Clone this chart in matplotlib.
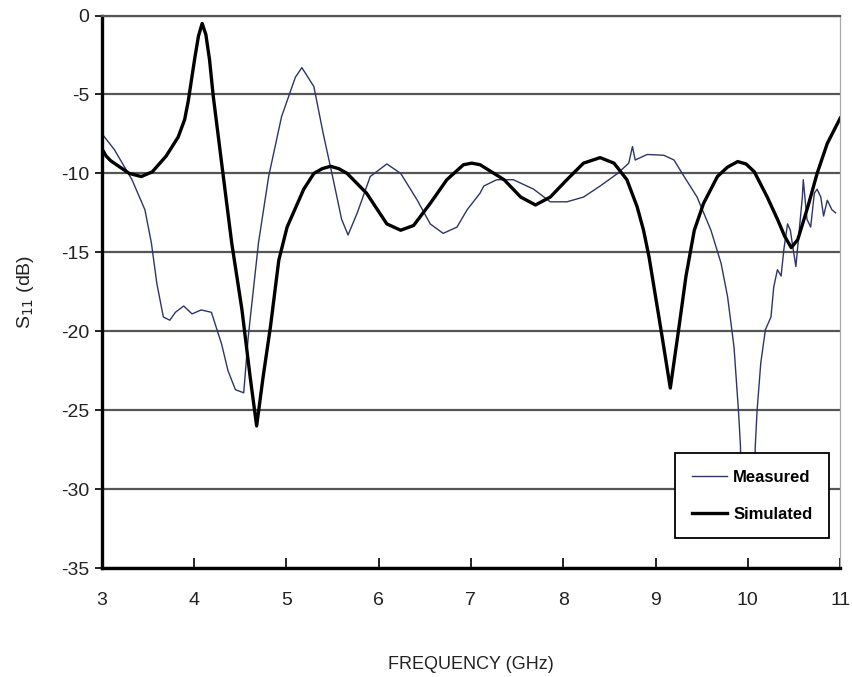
import matplotlib
matplotlib.use("Agg")
import matplotlib.pyplot as plt

# frequency (GHz) and S11 (dB)
meas_f = [3.00, 3.14, 3.33, 3.47, 3.54, 3.60, 3.67, 3.74, 3.80, 3.89, 3.98, 4.08,
          4.19, 4.30, 4.37, 4.45, 4.54, 4.59, 4.70, 4.81, 4.95, 5.10, 5.17, 5.30,
          5.40, 5.51, 5.60, 5.67, 5.77, 5.91, 6.09, 6.24, 6.42, 6.56, 6.70, 6.85,
          6.96, 7.10, 7.14, 7.28, 7.46, 7.68, 7.86, 8.04, 8.22, 8.40, 8.59, 8.71,
          8.75, 8.78, 8.91, 9.09, 9.20, 9.31, 9.45, 9.60, 9.71, 9.78, 9.85, 9.90,
          9.92, 9.93, 10.07, 10.08, 10.10, 10.14, 10.19, 10.25, 10.28, 10.32, 10.36,
          10.39, 10.43, 10.46, 10.48, 10.52, 10.55, 10.59, 10.60, 10.64, 10.68, 10.72,
          10.75, 10.79, 10.82, 10.86, 10.91, 10.95]
meas_db = [-7.45, -8.5, -10.4, -12.3, -14.4, -17.0, -19.1, -19.3, -18.8, -18.4, -18.9, -18.65,
           -18.8, -20.8, -22.5, -23.7, -23.9, -20.3, -14.4, -10.2, -6.4, -3.9, -3.3, -4.5,
           -7.45, -10.4, -12.9, -13.9, -12.5, -10.2, -9.4, -10.0, -11.7, -13.2, -13.8, -13.4,
           -12.3, -11.25, -10.8, -10.4, -10.4, -11.0, -11.8, -11.8, -11.5, -10.8, -10.0, -9.35,
           -8.3, -9.15, -8.8, -8.85, -9.15, -10.2, -11.5, -13.6, -15.7, -17.8, -21.0, -25.2,
           -27.3, -32.0, -32.0, -27.3, -25.0, -22.0, -19.9, -19.1, -17.2, -16.1, -16.5,
           -14.8, -13.2, -13.6, -14.4, -15.9, -14.0, -11.5, -10.4, -12.9, -13.4, -11.25,
           -11.0, -11.5, -12.7, -11.7, -12.3, -12.5]

sim_f = [3.00, 3.05, 3.10, 3.20, 3.30, 3.43, 3.55, 3.70, 3.83, 3.90, 3.94, 4.01, 4.05,
         4.09, 4.13, 4.17, 4.21, 4.30, 4.41, 4.52, 4.61, 4.68, 4.75, 4.83, 4.92, 5.01,
         5.10, 5.19, 5.30, 5.39, 5.48, 5.57, 5.66, 5.87, 6.09, 6.24, 6.38, 6.56, 6.74,
         6.92, 7.01, 7.10, 7.36, 7.54, 7.70, 7.86, 8.04, 8.22, 8.40, 8.55, 8.69, 8.80,
         8.87, 8.93, 9.00, 9.07, 9.16, 9.25, 9.33, 9.42, 9.52, 9.67, 9.78, 9.89, 9.98,
         10.07, 10.21, 10.32, 10.40, 10.47, 10.54, 10.65, 10.75, 10.86, 11.00]
sim_db = [-8.4, -8.9, -9.2, -9.6, -10.0, -10.2, -9.9, -8.9, -7.7, -6.6, -5.4, -2.7, -1.3,
          -0.5, -1.2, -2.8, -5.1, -9.3, -14.4, -18.6, -22.9, -26.0, -22.9, -19.7, -15.5, -13.4,
          -12.2, -11.0, -10.0, -9.7, -9.55, -9.7, -10.0, -11.25, -13.2, -13.6, -13.3, -11.9, -10.4,
          -9.45, -9.35, -9.45, -10.4, -11.5, -12.0, -11.5, -10.4, -9.35, -9.0, -9.35, -10.4, -12.1,
          -13.6, -15.3, -17.8, -20.3, -23.6, -19.9, -16.5, -13.6, -11.9, -10.2, -9.6, -9.25, -9.4,
          -9.9, -11.5, -12.9, -14.0, -14.7, -14.2, -12.1, -10.0, -8.1, -6.5]

x_ticks = [3, 4, 5, 6, 7, 8, 9, 10, 11]
y_ticks = [0, -5, -10, -15, -20, -25, -30, -35]

plt.rcParams['font.family'] = ['Liberation Sans', 'DejaVu Sans']

fig = plt.figure(figsize=(8.53, 6.77), dpi=100)
ax = fig.add_axes([0.119, 0.161, 0.866, 0.816])

ax.plot(meas_f, meas_db, color='#2e3566', linewidth=1.0, label='Measured')
ax.plot(sim_f, sim_db, color='black', linewidth=2.4, label='Simulated')

ax.set_xlim(3, 11)
ax.set_ylim(-35, 0)
ax.set_xticks(x_ticks)
ax.set_xticklabels([str(t) for t in x_ticks])
ax.set_yticks(y_ticks)
ax.set_yticklabels([str(t) for t in y_ticks])

ax.yaxis.grid(True, color='#555555', linewidth=1.6)
ax.set_axisbelow(True)

ax.spines['left'].set_linewidth(2.4)
ax.spines['bottom'].set_linewidth(2.4)
ax.spines['top'].set_color('#555555')
ax.spines['top'].set_linewidth(1.6)
ax.spines['right'].set_color('#aaaaaa')
ax.spines['right'].set_linewidth(0.9)

ax.tick_params(axis='x', direction='in', length=7, width=1.2, pad=17,
               labelsize=14, labelcolor='#222222')
ax.tick_params(axis='y', direction='out', length=5, width=1.2, pad=4,
               labelsize=14, labelcolor='#222222')

ax.set_xlabel('FREQUENCY (GHz)', fontsize=13, color='#222222', labelpad=34)
ax.set_ylabel('S$_{11}$ (dB)', fontsize=14, color='#222222', labelpad=18)

leg = ax.legend(loc='lower right', bbox_to_anchor=(0.985, 0.054), borderaxespad=0,
                fancybox=False, framealpha=1, edgecolor='black',
                prop={'weight': 'bold', 'size': 12},
                handlelength=2.1, handletextpad=0.4, borderpad=1.0, labelspacing=1.3)
leg.get_frame().set_linewidth(1.3)
leg.set_zorder(5)

fig.savefig('out.png', dpi=100, facecolor='white')
